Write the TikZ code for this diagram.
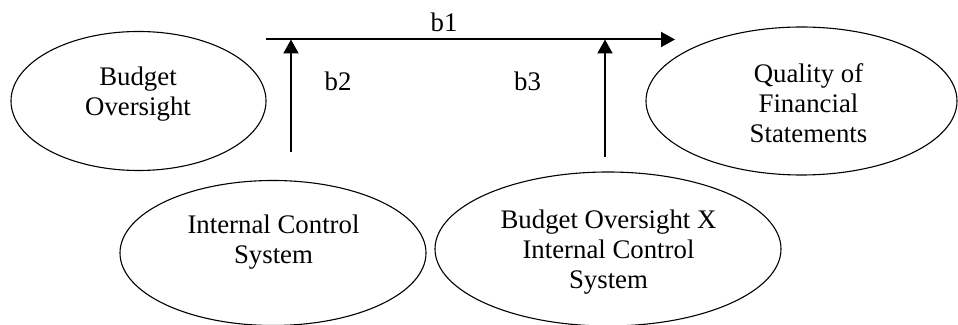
\documentclass[tikz,border=0pt]{standalone}
\usepackage{fontspec}
\setmainfont{Liberation Serif}
\usetikzlibrary{shapes.geometric,arrows.meta}
\begin{document}
\begin{tikzpicture}[x=0.5pt,y=-0.5pt,
  oval/.style={draw, ellipse, inner sep=0pt, line width=0.55pt},
  txt/.style={align=center, inner sep=0pt, font=\fontsize{13.4pt}{15pt}\selectfont},
  lbl/.style={inner sep=0pt, anchor=base, font=\fontsize{13.4pt}{15pt}\selectfont},
  conn/.style={line width=1pt, -{Triangle[length=7pt,width=7.5pt]}}]
\useasboundingbox (0,0) rectangle (958,325);
% ellipses
\node[oval, minimum width=127.5pt, minimum height=69.5pt] (bo) at (138.5,101) {};
\node[oval, minimum width=153pt, minimum height=72.5pt] (ics) at (273,253) {};
\node[oval, minimum width=173pt, minimum height=77pt] (mod) at (608,249) {};
\node[oval, minimum width=155.5pt, minimum height=74pt] (qfs) at (801.5,101) {};
% texts
\node[txt] (tbo) at (138,94) {Budget\\Oversight};
\node[txt] (tics) at (273.5,242) {Internal Control\\System};
\node[txt] (tmod) at (608.5,252) {Budget Oversight X\\Internal Control\\System};
\node[txt] (tqfs) at (808.5,103.5) {Quality of\\Financial\\Statements};
% connector points
\coordinate (hs) at (266,39.5);
\coordinate (he) at (675,39.5);
\coordinate (v1s) at (291,152);
\coordinate (v1e) at (291,39.5);
\coordinate (v2s) at (605,157);
\coordinate (v2e) at (605,39.5);
\draw[conn] (hs) -- (he);
\draw[conn] (v1s) -- (v1e);
\draw[conn] (v2s) -- (v2e);
% labels
\node[lbl] (b1) at (444,32) {b1};
\node[lbl] (b2) at (338,91) {b2};
\node[lbl] (b3) at (527.5,91) {b3};
\end{tikzpicture}
\end{document}
